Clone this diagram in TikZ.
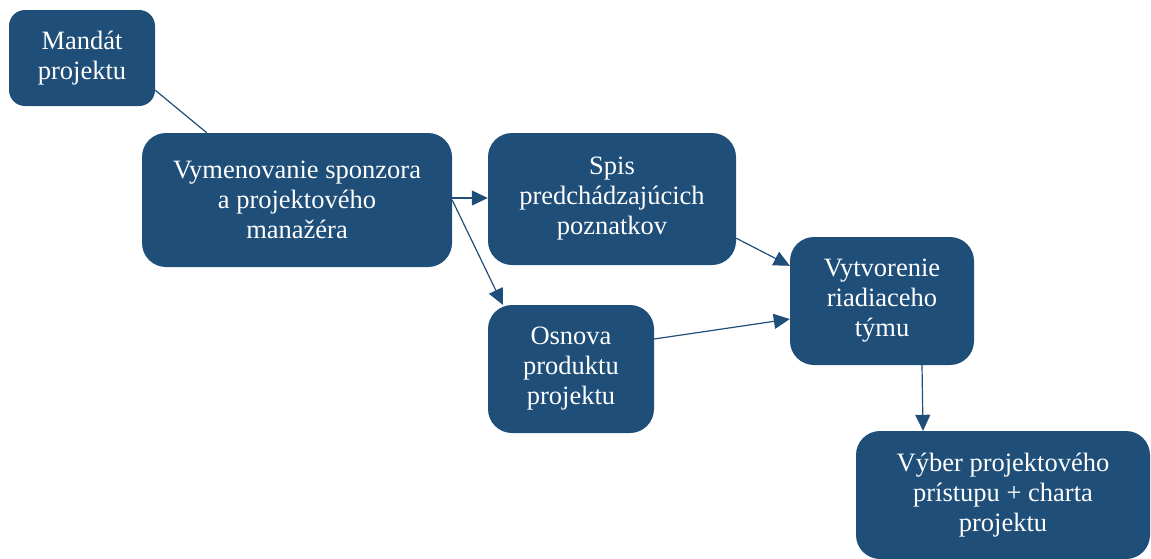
\documentclass[tikz,border=0pt]{standalone}
\usepackage{fontspec}
\setmainfont{Liberation Serif}
\usetikzlibrary{arrows.meta}
\definecolor{boxblue}{RGB}{31,78,121}
\begin{document}
\begin{tikzpicture}[x=1pt,y=-1pt,
  box/.style={fill=boxblue, draw=none, rounded corners=24pt, inner sep=0pt,
    text=white, align=center, font=\fontsize{26.5}{30}\selectfont},
  conn/.style={draw=boxblue, line width=1.2pt},
  arr/.style={conn, -{Triangle[length=16pt,width=15pt]}}]
\useasboundingbox (0,0) rectangle (1151,558);
\node[box, rounded corners=16pt, minimum width=146pt, minimum height=96pt] (mandat) at (82,58) {Mandát\\projektu};
\node[box, minimum width=310pt, minimum height=134pt] (vym) at (297,200) {Vymenovanie sponzora\\a projektového\\manažéra};
\node[box, minimum width=248pt, minimum height=132pt] (spis) at (612,199) {Spis\\predchádzajúcich\\poznatkov};
\node[box, minimum width=166pt, minimum height=128pt] (osn) at (571,369) {Osnova\\produktu\\projektu};
\node[box, minimum width=184pt, minimum height=128pt] (vyt) at (882,301) {Vytvorenie\\riadiaceho\\týmu};
\node[box, minimum width=294pt, minimum height=128pt] (vyber) at (1003,495) {Výber projektového\\prístupu + charta\\projektu};
\draw[conn] ([yshift=16pt]mandat.south east) -- ([xshift=65pt]vym.north west);
\draw[arr] ([yshift=2pt]vym.east) -- ([yshift=1pt]spis.west);
\draw[arr] (vym.east) -- ([xshift=15pt]osn.north west);
\draw[arr] ([yshift=27pt]spis.south east) -- ([yshift=-29pt]vyt.north west);
\draw[arr] ([yshift=30pt]osn.east) -- ([yshift=-18pt]vyt.west);
\draw[arr] ([xshift=40pt]vyt.south) -- ([xshift=-80pt]vyber.north);
\end{tikzpicture}
\end{document}
